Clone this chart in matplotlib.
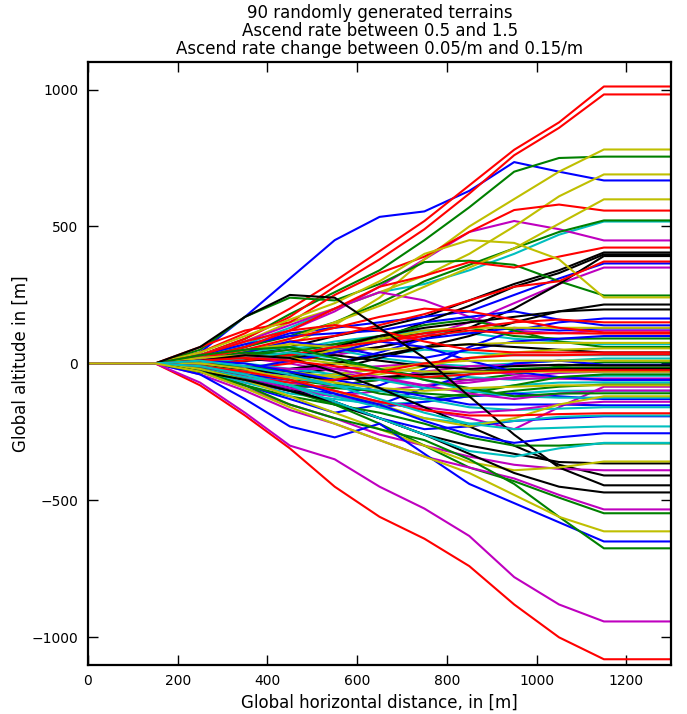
import numpy as np
import matplotlib.pyplot as plt

# knots along the horizontal distance (m); terrain is flat before 150 and after 1150
knots = [250, 350, 450, 550, 650, 750, 850, 950, 1050, 1150]

blue_terrains = [
    [40, 170, 310, 450, 535, 555, 630, 735, 700, 668],
    [20, 60, 110, 130, 150, 170, 190, 250, 310, 365],
    [-20, -60, -90, -120, -80, -20, 60, 120, 150, 164],
    [30, 70, 100, 110, 120, 150, 170, 190, 160, 139],
    [-10, -30, -40, 0, 40, 90, 110, 130, 120, 128],
    [10, 40, 80, 60, 30, 20, 50, 80, 90, 100],
    [-30, -80, -130, -180, -150, -90, -40, 0, 10, -5],
    [0, -20, 10, 40, 80, 60, 10, -30, -50, -60],
    [-20, -50, -90, -110, -160, -140, -120, -110, -120, -130],
    [10, 0, -30, -60, -90, -120, -150, -150, -150, -153],
    [-20, -60, -100, -140, -200, -240, -230, -210, -200, -193],
    [-10, -40, -60, -110, -150, -210, -260, -290, -270, -255],
    [-40, -130, -230, -270, -220, -330, -440, -510, -580, -650],
]
green_terrains = [
    [30, 90, 180, 260, 340, 450, 570, 700, 750, 755],
    [20, 60, 100, 150, 220, 300, 360, 420, 480, 522],
    [50, 170, 240, 230, 290, 370, 375, 360, 300, 248],
    [10, 30, 50, 70, 90, 110, 130, 100, 90, 91],
    [-10, 10, 40, 70, 100, 140, 160, 120, 80, 60],
    [20, 40, 30, 10, -20, -50, -60, -40, -10, 4],
    [-10, -40, -60, -80, -60, -40, -30, -20, -15, -15],
    [0, -10, -30, -70, -110, -130, -110, -80, -50, -40],
    [-20, -50, -80, -90, -100, -110, -120, -100, -85, -77],
    [30, 50, 60, 20, -20, -60, -90, -120, -110, -109],
    [-30, -80, -120, -150, -180, -220, -270, -300, -300, -292],
    [-20, -60, -100, -150, -220, -300, -380, -430, -490, -547],
    [-30, -80, -150, -200, -240, -280, -350, -440, -560, -675],
]
red_terrains = [
    [40, 110, 200, 300, 410, 520, 650, 780, 880, 1011],
    [30, 90, 170, 280, 380, 490, 620, 760, 860, 982],
    [60, 120, 150, 250, 330, 390, 480, 560, 580, 558],
    [20, 60, 120, 200, 280, 320, 370, 350, 390, 423],
    [10, 40, 80, 100, 140, 180, 230, 280, 300, 372],
    [-10, -20, 0, 40, 80, 110, 130, 150, 160, 150],
    [20, 50, 90, 130, 170, 200, 190, 160, 130, 113],
    [0, 10, 30, 60, 80, 100, 120, 110, 110, 109],
    [30, 80, 120, 140, 120, 80, 50, 40, 40, 40],
    [-20, -50, -70, -60, -30, 0, 20, 30, 30, 33],
    [10, 20, 10, -10, -30, -50, -40, -30, -25, -25],
    [-10, -30, -60, -100, -140, -170, -190, -190, -185, -182],
    [-80, -190, -310, -450, -560, -640, -740, -880, -1000, -1080],
]
cyan_terrains = [
    [20, 70, 130, 200, 260, 290, 340, 400, 470, 518],
    [10, 30, 50, 80, 100, 120, 110, 90, 80, 70],
    [-10, -30, -20, 0, 30, 50, 40, 30, 30, 30],
    [20, 40, 60, 50, 20, 0, -10, 0, 10, 18],
    [0, -10, -30, -50, -60, -50, -40, -30, -20, -18],
    [-20, -40, -50, -40, -20, -30, -50, -60, -50, -45],
    [10, 0, -20, -40, -60, -90, -100, -80, -70, -69],
    [-30, -70, -110, -130, -150, -140, -120, -110, -100, -100],
    [0, 20, 40, 20, -20, -60, -100, -120, -125, -125],
    [-10, -30, -50, -80, -100, -130, -160, -170, -165, -160],
    [-20, -50, -80, -120, -160, -200, -220, -210, -195, -190],
    [10, -10, -40, -80, -130, -180, -220, -240, -235, -230],
    [-10, -40, -80, -140, -200, -260, -320, -340, -310, -290],
]
magenta_terrains = [
    [20, 60, 120, 190, 280, 380, 480, 520, 490, 449],
    [0, 20, 40, 30, 60, 100, 150, 220, 290, 350],
    [30, 80, 140, 200, 260, 230, 170, 120, 110, 120],
    [-20, -60, -90, -80, -60, -30, -10, -5, -7, -7],
    [10, 20, 0, -30, -60, -80, -70, -50, -35, -30],
    [-30, -70, -100, -120, -100, -80, -60, -55, -55, -55],
    [0, -10, -20, -20, -10, 0, -20, -40, -55, -60],
    [-10, -40, -70, -100, -140, -170, -200, -240, -160, -85],
    [20, 30, 10, -20, -50, -80, -110, -130, -110, -99],
    [-20, -50, -90, -120, -140, -160, -180, -170, -150, -140],
    [-30, -90, -150, -200, -260, -300, -340, -370, -385, -390],
    [-40, -100, -170, -220, -280, -340, -380, -420, -480, -533],
    [-70, -180, -300, -350, -450, -530, -630, -780, -880, -942],
]
yellow_terrains = [
    [10, 30, 70, 140, 240, 380, 500, 600, 700, 781],
    [30, 80, 150, 200, 260, 320, 400, 500, 610, 690],
    [10, 40, 90, 150, 210, 280, 350, 420, 510, 599],
    [40, 100, 160, 220, 300, 400, 450, 440, 380, 241],
    [-10, -20, 10, 50, 90, 120, 130, 130, 130, 130],
    [20, 50, 70, 60, 50, 60, 70, 75, 75, 75],
    [0, -10, -30, -50, -40, -10, 20, 40, 50, 55],
    [-20, -40, -60, -40, -20, 0, 10, 10, 10, 10],
    [20, 30, 20, 0, -20, -30, -30, -30, -30, -30],
    [-10, -30, -50, -70, -90, -100, -90, -85, -80, -80],
    [0, -20, -60, -100, -150, -200, -230, -200, -150, -120],
    [-20, -60, -120, -180, -240, -300, -360, -390, -380, -358],
    [-30, -90, -160, -220, -280, -340, -400, -480, -560, -613],
]
black_terrains = [
    [10, 30, 60, 100, 130, 170, 230, 290, 340, 405],
    [20, 40, 30, 50, 90, 150, 210, 280, 330, 398],
    [0, 10, 20, 40, 60, 90, 130, 200, 290, 392],
    [-10, -30, -40, -20, 20, 60, 100, 150, 190, 215],
    [10, 20, 30, 60, 100, 130, 150, 170, 190, 197],
    [-20, -30, -20, 0, 30, 60, 70, 60, 50, 40],
    [0, 10, 20, 30, 10, -10, -20, -10, -5, -7],
    [-10, -20, -40, -60, -50, -40, -30, -25, -20, -20],
    [-20, -50, -90, -150, -200, -260, -300, -330, -360, -365],
    [10, 30, 20, -30, -90, -160, -230, -300, -370, -409],
    [60, 170, 250, 240, 130, 20, -120, -260, -380, -445],
    [-30, -60, -100, -140, -200, -260, -330, -400, -450, -471],
]

groups = [
    (blue_terrains, (0, 0, 1)),
    (green_terrains, (0, 0.5, 0)),
    (red_terrains, (1, 0, 0)),
    (cyan_terrains, (0, 0.75, 0.75)),
    (magenta_terrains, (0.75, 0, 0.75)),
    (yellow_terrains, (0.75, 0.75, 0)),
    (black_terrains, (0, 0, 0)),
]

fig = plt.figure(figsize=(6.87, 7.14), dpi=100, facecolor='white')
ax = fig.add_axes([0.128, 0.069, 0.849, 0.844])

x = np.array([0, 150] + knots + [1300])
# plot in the classic colour cycle order b, g, r, c, m, y, k
for i in range(13):
    for terrains, color in groups:
        if i < len(terrains):
            t = terrains[i]
            y = np.array([0, 0] + t + [t[-1]])
            ax.plot(x, y, color=color, linewidth=1.5, solid_joinstyle='round')

ax.set_xlim(0, 1300)
ax.set_ylim(-1100, 1100)
ax.set_xticks([0, 200, 400, 600, 800, 1000, 1200])
ax.set_yticks([-1000, -500, 0, 500, 1000])
ax.tick_params(direction='in', length=7, width=1, top=True, right=True, labelsize=10, pad=7)
for s in ax.spines.values():
    s.set_linewidth(1.6)

ax.set_xlabel('Global horizontal distance, in [m]', fontsize=12)
ax.set_ylabel('Global altitude in [m]', fontsize=12, labelpad=1)
ax.set_title('90 randomly generated terrains\nAscend rate between 0.5 and 1.5\n'
             'Ascend rate change between 0.05/m and 0.15/m', fontsize=12, linespacing=1.0)

fig.savefig('out.png', dpi=100, facecolor='white')
